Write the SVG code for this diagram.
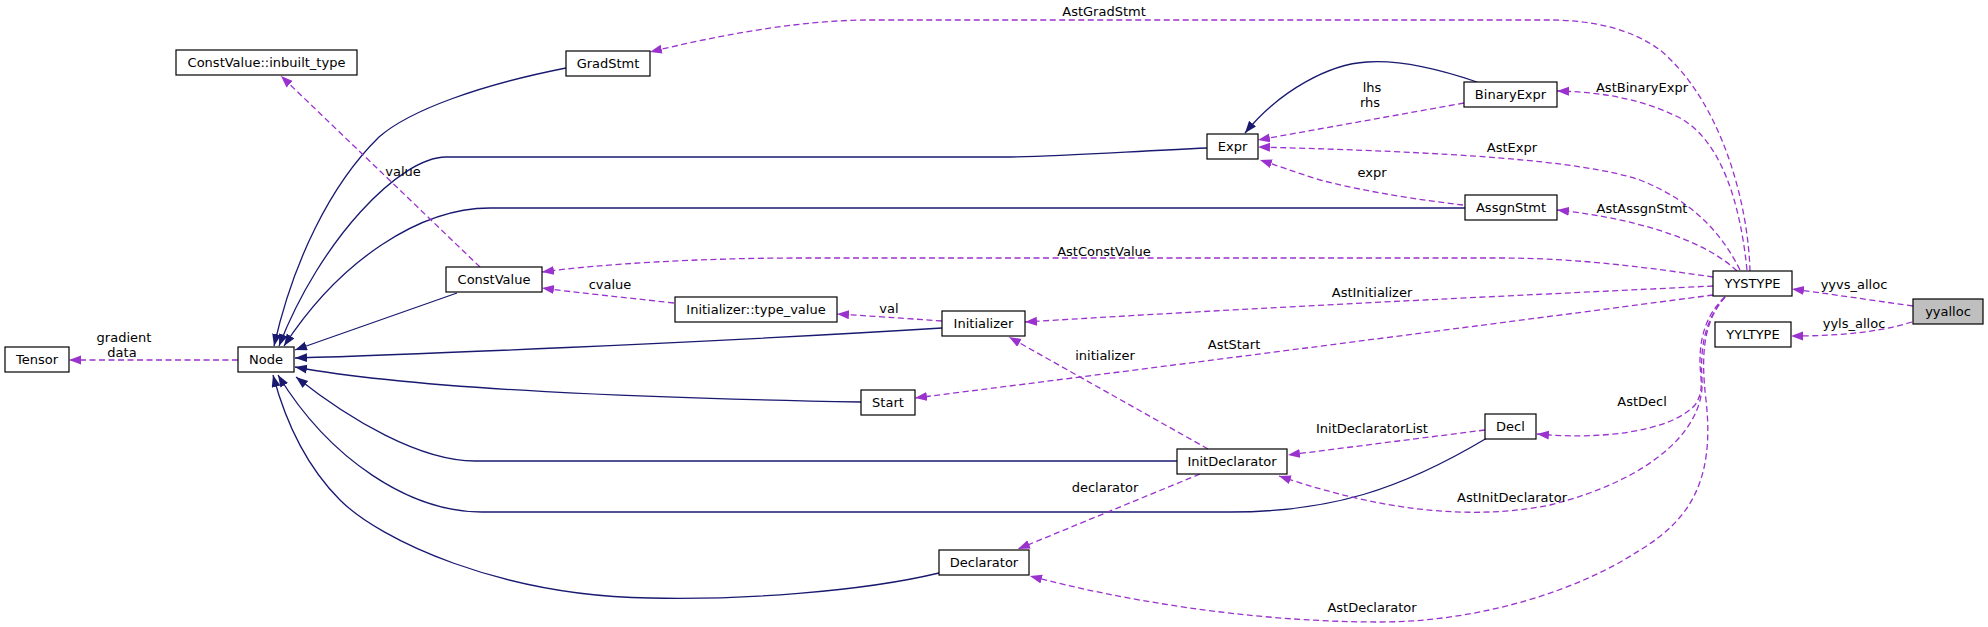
<svg xmlns="http://www.w3.org/2000/svg" width="1988" height="627" viewBox="0 0 1988 627">
<defs>
<marker id="an" markerUnits="userSpaceOnUse" markerWidth="13" markerHeight="10" refX="12" refY="4.5" orient="auto"><path d="M0,0 L12,4.5 L0,9 z" fill="#191970"/></marker>
<marker id="ap" markerUnits="userSpaceOnUse" markerWidth="13" markerHeight="10" refX="12" refY="4.5" orient="auto"><path d="M0,0 L12,4.5 L0,9 z" fill="#9a32cd"/></marker>
</defs>
<style>
.n rect{fill:#fff;stroke:#000;stroke-width:1.2}
.n text,.lb{font-family:"DejaVu Sans","Liberation Sans",sans-serif;font-size:13px;fill:#000;text-anchor:middle}
.s{fill:none;stroke:#191970;stroke-width:1.3;marker-end:url(#an)}
.d{fill:none;stroke:#9a32cd;stroke-width:1.3;stroke-dasharray:6,3.5;marker-end:url(#ap)}
</style>
<rect width="1988" height="627" fill="#fff"/>
<g id="edges">
<path class="s" d="M566,68 C480,85 410,110 379,137 C330,185 293,262 274,346"/>
<path class="s" d="M1207,148 C1120,152 1050,157 1003,157 L446,157 C400,157 320,240 279,346"/>
<path class="s" d="M1465,208 L490,208 C420,208 340,260 284,346"/>
<path class="s" d="M457,293 L295,350"/>
<path class="s" d="M942,328 C700,343 400,355 295,358"/>
<path class="s" d="M861,402 C650,398 420,390 295,367"/>
<path class="s" d="M1177,461 L475,461 C420,461 350,420 296,377"/>
<path class="s" d="M1487,438 C1400,490 1330,512 1230,512 L482,512 C410,512 330,460 278,375"/>
<path class="s" d="M939,573 C860,592 740,600 650,598 C500,596 380,540 340,500 C305,465 285,420 273,375"/>
<path class="s" d="M1477,82 C1430,66 1395,60 1367,62 C1330,64 1280,90 1245,133"/>
<path class="d" d="M238,360 L69,360"/>
<path class="d" d="M480,267 L281,76"/>
<path class="d" d="M674,303 C620,297 580,293 542,288"/>
<path class="d" d="M942,321 C900,318 870,316 837,314"/>
<path class="d" d="M1208,449 L1009,337"/>
<path class="d" d="M1200,474 L1018,549"/>
<path class="d" d="M1485,430 L1288,455"/>
<path class="d" d="M1464,103 L1258,140"/>
<path class="d" d="M1463,205 C1420,200 1367,192 1320,180 C1295,172 1275,165 1260,160"/>
<path class="d" d="M1740,270 C1720,230 1690,200 1640,180 C1580,160 1450,152 1258,147"/>
<path class="d" d="M1750,271 C1748,200 1720,100 1660,50 C1630,28 1590,20 1550,20 L870,20 C800,20 720,35 650,52"/>
<path class="d" d="M1747,270 C1740,200 1720,140 1680,118 C1640,98 1600,92 1557,91"/>
<path class="d" d="M1737,271 C1710,245 1650,220 1557,210"/>
<path class="d" d="M1713,277 C1650,268 1580,258 1500,258 L800,258 C700,258 600,264 542,272"/>
<path class="d" d="M1713,286 C1550,294 1300,305 1025,322"/>
<path class="d" d="M1713,295 C1600,310 1200,362 915,398"/>
<path class="d" d="M1725,297 C1705,315 1700,340 1700,360 C1700,380 1705,390 1695,405 C1670,432 1600,440 1537,434"/>
<path class="d" d="M1725,297 C1705,320 1700,345 1702,380 C1705,430 1650,480 1550,505 C1450,525 1350,500 1279,476"/>
<path class="d" d="M1725,297 C1705,320 1700,350 1706,400 C1715,480 1690,520 1640,550 C1580,590 1480,622 1380,622 C1250,622 1120,600 1030,576"/>
<path class="d" d="M1913,306 C1870,300 1830,294 1792,289"/>
<path class="d" d="M1912,322 C1880,332 1840,336 1791,336"/>
<text class="lb" x="124" y="342">gradient</text>
<text class="lb" x="122" y="357">data</text>
<text class="lb" x="403" y="176">value</text>
<text class="lb" x="610" y="289">cvalue</text>
<text class="lb" x="889" y="313">val</text>
<text class="lb" x="1104" y="16">AstGradStmt</text>
<text class="lb" x="1372" y="92">lhs</text>
<text class="lb" x="1370" y="107">rhs</text>
<text class="lb" x="1642" y="92">AstBinaryExpr</text>
<text class="lb" x="1512" y="152">AstExpr</text>
<text class="lb" x="1372" y="177">expr</text>
<text class="lb" x="1642" y="213">AstAssgnStmt</text>
<text class="lb" x="1104" y="256">AstConstValue</text>
<text class="lb" x="1372" y="297">AstInitializer</text>
<text class="lb" x="1234" y="349">AstStart</text>
<text class="lb" x="1105" y="360">initializer</text>
<text class="lb" x="1372" y="433">InitDeclaratorList</text>
<text class="lb" x="1642" y="406">AstDecl</text>
<text class="lb" x="1105" y="492">declarator</text>
<text class="lb" x="1512" y="502">AstInitDeclarator</text>
<text class="lb" x="1372" y="612">AstDeclarator</text>
<text class="lb" x="1854" y="289">yyvs_alloc</text>
<text class="lb" x="1854" y="328">yyls_alloc</text>
</g>
<g id="n-inbuilt" class="n"><rect x="176" y="50" width="181" height="25"/><text x="266.5" y="67">ConstValue::inbuilt_type</text></g>
<g id="n-gradstmt" class="n"><rect x="566" y="51" width="84" height="25"/><text x="608" y="68">GradStmt</text></g>
<g id="n-constvalue" class="n"><rect x="446" y="267" width="96" height="25"/><text x="494" y="284">ConstValue</text></g>
<g id="n-tensor" class="n"><rect x="5" y="347" width="64" height="25"/><text x="37" y="364">Tensor</text></g>
<g id="n-node" class="n"><rect x="238" y="347" width="56" height="25"/><text x="266" y="364">Node</text></g>
<g id="n-expr" class="n"><rect x="1207" y="134" width="51" height="25"/><text x="1232.5" y="151">Expr</text></g>
<g id="n-binaryexpr" class="n"><rect x="1464" y="82" width="93" height="25"/><text x="1510.5" y="99">BinaryExpr</text></g>
<g id="n-assgnstmt" class="n"><rect x="1465" y="195" width="92" height="25"/><text x="1511" y="212">AssgnStmt</text></g>
<g id="n-typevalue" class="n"><rect x="675" y="297" width="162" height="25"/><text x="756" y="314">Initializer::type_value</text></g>
<g id="n-initializer" class="n"><rect x="942" y="311" width="83" height="25"/><text x="983.5" y="328">Initializer</text></g>
<g id="n-start" class="n"><rect x="861" y="390" width="54" height="25"/><text x="888" y="407">Start</text></g>
<g id="n-initdeclarator" class="n"><rect x="1177" y="449" width="110" height="25"/><text x="1232" y="466">InitDeclarator</text></g>
<g id="n-declarator" class="n"><rect x="939" y="550" width="90" height="25"/><text x="984" y="567">Declarator</text></g>
<g id="n-decl" class="n"><rect x="1485" y="414" width="51" height="25"/><text x="1510.5" y="431">Decl</text></g>
<g id="n-yystype" class="n"><rect x="1713" y="271" width="79" height="25"/><text x="1752.5" y="288">YYSTYPE</text></g>
<g id="n-yyltype" class="n"><rect x="1715" y="322" width="76" height="25"/><text x="1753" y="339">YYLTYPE</text></g>
<g id="n-yyalloc" class="n"><rect x="1913" y="299" width="70" height="25" style="fill:#bfbfbf"/><text x="1948" y="316">yyalloc</text></g>
</svg>
